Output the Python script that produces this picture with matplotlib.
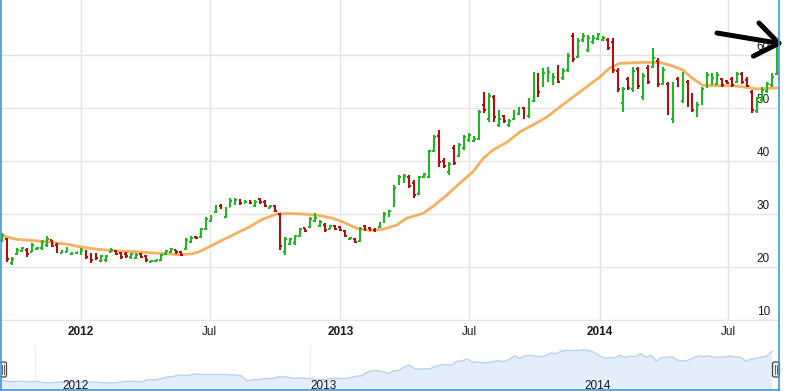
import matplotlib
matplotlib.use('Agg')
import matplotlib.pyplot as plt
import matplotlib.dates as mdates
import matplotlib.transforms as mtransforms
from matplotlib.patches import FancyBboxPatch
from matplotlib.lines import Line2D
import numpy as np
import pandas as pd

plt.rcParams['font.family'] = ['Liberation Sans', 'DejaVu Sans']

# weekly OHLC
start_week = '2011-09-12'
opens = [25.0, 25.2, 20.8, 22.5, 23.0, 23.3, 22.9, 23.4, 23.5, 24.2, 25.0, 24.2, 22.7, 22.9, 22.4, 22.6,
         22.6, 23.0, 22.3, 22.2, 21.2, 21.3, 22.9, 23.1, 22.6, 22.5, 21.9, 21.7, 22.4, 22.0, 21.0, 21.1,
         21.3, 22.4, 22.8, 23.2, 22.8, 23.4, 24.8, 25.7, 25.6, 27.2, 28.7, 30.3, 31.6, 29.5, 31.4, 31.9,
         32.6, 32.1, 32.4, 31.5, 32.8, 32.3, 31.2, 31.5, 30.0, 22.8, 24.4, 24.5, 25.8, 27.3, 27.5, 28.6,
         27.7, 28.0, 27.2, 27.7, 27.5, 26.8, 25.2, 25.3, 24.9, 27.7, 27.4, 27.0, 27.5, 28.5, 29.6, 31.5,
         35.6, 36.0, 37.0, 35.8, 33.8, 37.0, 37.0, 41.8, 44.8, 40.0, 38.0, 42.5, 41.0, 42.5, 43.9, 43.8,
         44.2, 50.5, 48.0, 52.0, 46.8, 48.5, 46.7, 47.9, 48.9, 50.0, 48.4, 51.4, 56.0, 54.3, 55.5, 54.8,
         57.6, 55.6, 57.1, 63.5, 59.7, 62.8, 61.0, 62.4, 63.0, 62.9, 62.9, 62.5, 57.0, 51.0, 55.4, 53.5,
         57.3, 52.0, 57.6, 57.8, 58.9, 54.6, 54.5, 48.0, 55.5, 51.4, 54.9, 52.3, 48.7, 50.9, 54.0, 54.6,
         54.6, 55.4, 55.1, 55.5, 55.0, 56.4, 55.3, 53.0, 49.5, 51.5, 53.2, 54.4, 56.5]
highs = [26.4, 25.5, 21.9, 23.6, 23.8, 23.6, 24.5, 23.7, 25.1, 25.8, 25.1, 24.5, 23.2, 23.8, 22.8, 22.9,
         23.6, 23.2, 22.6, 22.6, 22.3, 22.3, 23.6, 23.2, 22.8, 22.8, 22.6, 22.6, 22.6, 22.3, 21.3, 21.4,
         22.5, 23.2, 23.6, 23.3, 23.0, 25.5, 25.8, 25.8, 27.4, 29.4, 29.8, 31.7, 31.8, 31.3, 33.0, 33.0,
         32.8, 32.6, 32.6, 32.6, 33.0, 32.6, 31.7, 31.7, 30.2, 25.7, 25.5, 26.0, 27.4, 27.4, 29.4, 30.2,
         28.9, 28.3, 27.9, 27.9, 27.8, 27.0, 25.7, 25.5, 27.5, 28.0, 27.6, 27.4, 28.5, 30.4, 30.8, 35.5,
         37.4, 37.6, 37.4, 36.4, 37.2, 37.8, 42.1, 44.9, 45.8, 40.6, 39.8, 43.0, 43.4, 44.9, 45.3, 44.7,
         49.6, 53.0, 52.8, 52.5, 49.6, 48.7, 47.9, 49.6, 50.2, 50.2, 51.9, 56.8, 56.6, 57.5, 57.7, 56.6,
         58.1, 57.5, 60.4, 64.2, 63.2, 64.2, 63.8, 63.8, 64.2, 63.6, 63.2, 63.2, 57.5, 54.0, 55.8, 57.7,
         57.7, 56.6, 58.1, 61.3, 59.4, 57.7, 54.9, 54.9, 55.8, 56.8, 55.3, 52.8, 51.1, 54.0, 56.8, 56.6,
         56.8, 55.7, 55.3, 55.8, 56.8, 56.8, 55.8, 53.4, 52.1, 54.0, 54.9, 56.6, 63.0]
lows = [24.7, 21.0, 20.4, 22.3, 22.8, 21.9, 22.8, 23.3, 23.2, 23.8, 23.8, 22.6, 22.6, 22.8, 22.3, 22.5,
        22.3, 21.6, 20.8, 21.3, 21.0, 21.0, 22.8, 22.3, 21.6, 21.7, 21.6, 21.5, 21.7, 21.0, 20.9, 21.0,
        21.1, 22.3, 22.6, 22.4, 22.1, 23.2, 24.6, 25.2, 25.5, 27.0, 28.5, 30.2, 30.9, 29.2, 31.3, 31.7,
        31.7, 32.0, 31.8, 31.3, 31.9, 31.4, 31.1, 30.4, 23.2, 22.3, 24.2, 24.2, 25.7, 26.6, 27.4, 28.5,
        27.5, 26.6, 27.1, 27.0, 26.8, 25.7, 25.1, 24.5, 24.7, 26.8, 26.8, 26.6, 27.4, 28.3, 29.4, 31.3,
        35.5, 35.8, 34.9, 33.0, 33.6, 36.8, 36.8, 41.7, 38.9, 38.7, 37.4, 39.2, 40.8, 42.1, 43.6, 43.6,
        44.0, 49.1, 47.4, 47.4, 46.4, 47.2, 46.4, 47.7, 48.7, 47.9, 48.1, 51.1, 52.1, 54.0, 54.9, 54.3,
        54.7, 55.3, 56.8, 58.7, 59.4, 62.5, 60.6, 62.1, 62.8, 62.6, 60.9, 56.6, 53.0, 49.2, 53.4, 53.0,
        53.6, 51.5, 54.5, 57.5, 54.0, 54.3, 48.7, 47.2, 54.0, 50.9, 50.2, 49.2, 48.3, 50.6, 53.8, 54.3,
        54.3, 54.0, 54.5, 54.0, 54.7, 54.5, 54.0, 49.1, 49.1, 51.1, 52.8, 54.0, 56.2]
closes = [26.0, 21.6, 21.6, 23.3, 23.5, 22.4, 24.2, 23.5, 24.7, 25.3, 24.0, 22.9, 23.0, 23.5, 22.7, 22.8,
          23.3, 21.9, 21.3, 21.7, 22.0, 22.1, 23.3, 22.5, 21.9, 22.0, 22.4, 22.3, 21.9, 21.3, 21.2, 21.3,
          22.3, 23.0, 23.4, 22.8, 22.3, 25.0, 25.5, 25.4, 27.1, 29.0, 29.5, 31.4, 31.1, 31.0, 32.5, 32.6,
          32.0, 32.3, 32.0, 32.2, 32.2, 31.6, 31.5, 30.6, 24.0, 25.2, 25.2, 25.8, 27.1, 26.8, 29.0, 29.2,
          28.5, 26.9, 27.7, 27.2, 27.0, 25.9, 25.5, 24.8, 27.2, 27.2, 27.0, 26.8, 28.3, 30.0, 30.5, 35.0,
          37.0, 37.2, 35.3, 33.6, 36.9, 37.5, 41.8, 44.5, 39.8, 39.0, 39.5, 39.6, 43.0, 44.5, 45.0, 44.2,
          49.2, 49.6, 52.3, 48.3, 48.0, 47.5, 47.6, 49.2, 49.9, 48.9, 51.5, 56.3, 53.0, 56.6, 56.8, 55.9,
          55.0, 57.0, 59.9, 59.3, 62.6, 63.6, 63.3, 63.3, 63.9, 63.3, 61.4, 57.2, 53.5, 53.6, 53.8, 57.0,
          54.2, 56.0, 55.0, 59.4, 54.6, 57.1, 49.3, 54.3, 54.4, 55.0, 50.8, 49.6, 50.6, 53.6, 56.2, 55.6,
          56.3, 54.3, 54.7, 54.4, 56.4, 55.0, 54.2, 49.6, 51.8, 53.4, 54.5, 55.9, 62.5]

# moving average line (orange)
ma_dates = ['2011-09-09', '2011-10-03', '2011-10-26', '2011-11-18', '2011-12-12', '2012-01-04',
            '2012-01-28', '2012-02-21', '2012-03-14', '2012-04-07', '2012-05-01', '2012-05-19',
            '2012-06-06', '2012-06-16', '2012-06-30', '2012-07-19', '2012-08-08', '2012-08-26',
            '2012-09-13', '2012-10-03', '2012-10-21', '2012-11-08', '2012-11-28', '2012-12-21',
            '2013-01-04', '2013-01-24', '2013-02-11', '2013-03-01', '2013-03-21', '2013-04-04',
            '2013-04-27', '2013-05-11', '2013-05-31', '2013-06-18', '2013-07-07', '2013-07-21',
            '2013-08-04', '2013-08-24', '2013-09-11', '2013-09-29', '2013-10-19', '2013-11-06',
            '2013-11-24', '2013-12-14', '2014-01-01', '2014-01-15', '2014-01-29', '2014-02-27',
            '2014-03-27', '2014-04-10', '2014-04-28', '2014-05-12', '2014-05-26', '2014-06-15',
            '2014-07-08', '2014-07-27', '2014-08-10', '2014-08-28', '2014-09-08']
ma_values = [26.0, 25.2, 25.0, 24.7, 24.3, 23.7, 23.3, 23.0, 22.9, 22.7, 22.5, 22.3,
             22.5, 22.9, 23.8, 25.1, 26.4, 27.6, 29.0, 30.0, 30.1, 30.0, 29.8, 29.2,
             28.5, 27.3, 26.9, 27.1, 27.9, 29.2, 30.1, 31.4, 33.6, 35.8, 38.0, 40.5,
             42.1, 43.6, 45.5, 46.8, 48.3, 50.2, 52.0, 54.0, 55.8, 57.5, 58.4, 58.6,
             58.6, 58.1, 57.2, 55.6, 54.3, 54.2, 54.2, 53.9, 53.6, 53.7, 53.8]

y_ticks = [10, 20, 30, 40, 50, 60]
x_tick_dates = ['2012-01-01', '2012-07-01', '2013-01-01', '2013-07-01', '2014-01-01', '2014-07-01']
x_tick_labels = ['2012', 'Jul', '2013', 'Jul', '2014', 'Jul']
nav_tick_dates = ['2012-01-01', '2013-01-01', '2014-01-01']
nav_tick_labels = ['2012', '2013', '2014']
nav_label_shift = [27, 0, 0]   # pixels, the first label sits right of its grid line

UP = '#1fb81f'
DOWN = '#b01010'
MA_COLOR = '#f6b061'
GRID = '#e4e4e4'
FRAME = '#3b9ad6'
W, H = 786, 391


def to_num(d):
    return mdates.date2num(pd.to_datetime(d).to_pydatetime())


def draw_ohlc(ax, xs, o, h, l, c, tick=2.6, lw=1.5):
    o, h, l, c = map(np.asarray, (o, h, l, c))
    cols = np.where(c >= o, UP, DOWN)
    ax.vlines(xs, l, h, colors=cols, lw=lw, zorder=3)
    ax.hlines(o, xs - tick, xs, colors=cols, lw=lw, zorder=3)
    ax.hlines(c, xs, xs + tick, colors=cols, lw=lw, zorder=3)


fig = plt.figure(figsize=(W / 100, H / 100), dpi=100)

xs = mdates.date2num(pd.date_range(start_week, periods=len(closes), freq='7D').to_pydatetime())
x_left, x_right = xs[0] - 2.8, xs[-1] + 1.5

# main panel
ax = fig.add_axes([0, 70 / H, 778 / W, 321 / H])
ax.set_xlim(x_left, x_right)
ax.set_ylim(9.81, 70.38)
for s in ax.spines.values():
    s.set_visible(False)
ax.set_yticks(y_ticks)
ax.set_xticks([to_num(d) for d in x_tick_dates])
ax.set_xticklabels(x_tick_labels)
for t, lab in zip(ax.get_xticklabels(), x_tick_labels):
    if lab != 'Jul':
        t.set_fontweight('bold')
ax.tick_params(axis='x', length=0, pad=3.5, labelsize=8.5, labelcolor='#1a1a1a')
ax.tick_params(axis='y', length=0, labelleft=False)
ax.grid(True, color=GRID, lw=1)
ax.set_axisbelow(True)
for v in y_ticks:
    ax.annotate(str(v), xy=(1, v), xycoords=('axes fraction', 'data'), xytext=(-8, 2),
                textcoords='offset pixels', ha='right', va='bottom', fontsize=8.5, color='#1a1a1a')

ax.plot([to_num(d) for d in ma_dates], ma_values, color=MA_COLOR, lw=2, zorder=2,
        solid_capstyle='round', solid_joinstyle='round')
draw_ohlc(ax, xs, opens, highs, lows, closes)

# navigator
nav = fig.add_axes([0, 1 / H, 778 / W, 45 / H])
nav.set_xlim(to_num('2011-11-15'), to_num('2014-09-16'))
nav.set_ylim(12, 70.4)
for s in nav.spines.values():
    s.set_visible(False)
nav.set_xticks([])
nav.set_yticks([])
for d in nav_tick_dates:
    nav.axvline(to_num(d), color='#eef2f6', lw=1, zorder=0)
nav.fill_between(xs, closes, 0, color='#e3eefa', lw=0, zorder=1)
nav.plot(xs, closes, color='#b9d3ee', lw=1, zorder=2)
for d, lab, sh in zip(nav_tick_dates, nav_tick_labels, nav_label_shift):
    nav.annotate(lab, xy=(to_num(d), 17), xytext=(sh, 0), textcoords='offset pixels',
                 ha='left', va='center', fontsize=8.5, color='#1a1a1a', zorder=4)

# navigator handles
ident = mtransforms.IdentityTransform()
for hx in [3, 776]:
    fig.patches.append(FancyBboxPatch((hx - 3.5, H - 377), 7, 15,
                                      boxstyle='round,pad=0,rounding_size=2',
                                      fc='#f2f2f2', ec='#444444', lw=0.9, transform=ident, zorder=5))
    for dx in [-1.2, 1.2]:
        fig.lines.append(Line2D([hx + dx, hx + dx], [H - 374, H - 365], color='#444444', lw=0.6,
                                transform=ident, zorder=6))

# frame
for xy in [([1, 1], [0, H]), ([778.5, 778.5], [0, H]), ([0, 779], [1.5, 1.5])]:
    fig.lines.append(Line2D(xy[0], xy[1], color=FRAME, lw=1.2, transform=ident, zorder=7))

# hand drawn arrow
ax.annotate('', xy=(783, H - 44), xytext=(717, H - 33), xycoords='figure pixels',
            textcoords='figure pixels', annotation_clip=False,
            arrowprops=dict(arrowstyle='->,head_length=0.75,head_width=0.55', color='black',
                            lw=3.6, mutation_scale=22, shrinkA=0, shrinkB=0))

fig.savefig('out.png', dpi=100)
